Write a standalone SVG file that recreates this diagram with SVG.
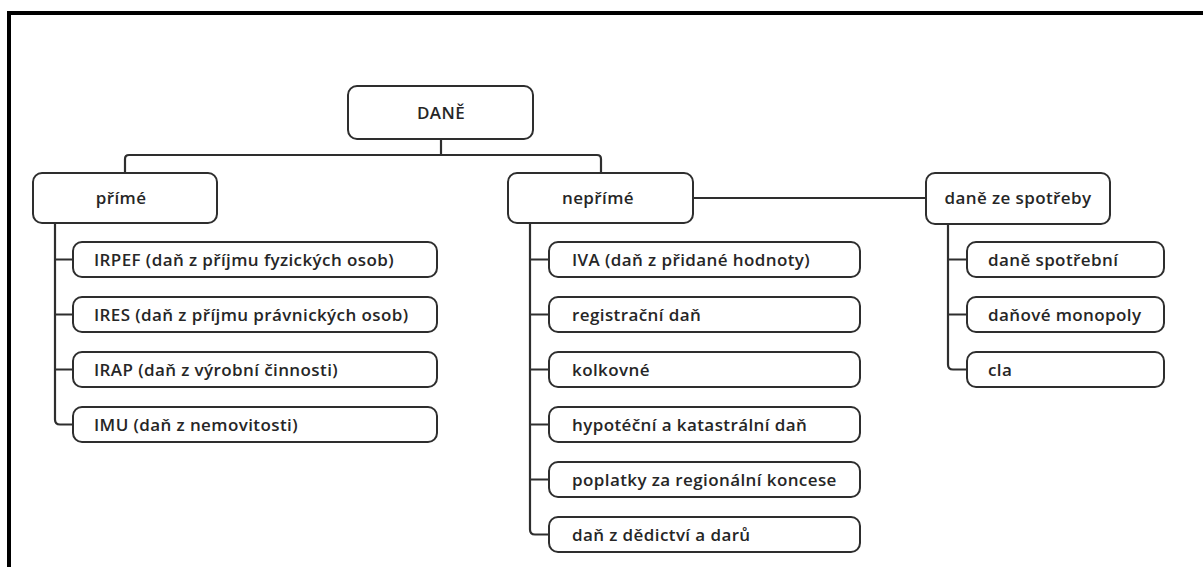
<svg xmlns="http://www.w3.org/2000/svg" width="1203" height="567" viewBox="0 0 1203 567">
  <style>
    .box { fill: #ffffff; stroke: #2e2e2e; stroke-width: 2; }
    .wire { fill: none; stroke: #2e2e2e; stroke-width: 2.2; }
    .lbl { font-family: "Open Sans", "Liberation Sans", sans-serif; font-weight: 600; font-size: 17px; letter-spacing: 0.4px; fill: #262626; }
    .mid { text-anchor: middle; }
  </style>
  <rect width="1203" height="567" fill="#ffffff"/>
  <!-- outer frame, running past the right and bottom edges -->
  <rect x="9" y="13" width="1300" height="700" fill="none" stroke="#000000" stroke-width="4"/>

  <g id="connectors">
    <!-- root to the two main branches -->
    <path class="wire" d="M441 139 V155"/>
    <path class="wire" d="M125 173 V159 Q125 155 129 155 H597 Q601 155 601 159 V173"/>
    <!-- nepřímé to daně ze spotřeby -->
    <path class="wire" d="M693 198 H926"/>
    <!-- přímé children -->
    <path class="wire" d="M55 223 V419.5 Q55 424.5 60 424.5 H73"/>
    <path class="wire" d="M55 259.5 H73 M55 314.5 H73 M55 369.5 H73"/>
    <!-- nepřímé children -->
    <path class="wire" d="M530 223 V529.5 Q530 534.5 535 534.5 H549"/>
    <path class="wire" d="M530 259.5 H549 M530 314.5 H549 M530 369.5 H549 M530 424.5 H549 M530 479.5 H549"/>
    <!-- daně ze spotřeby children -->
    <path class="wire" d="M948 224 V364.5 Q948 369.5 953 369.5 H967"/>
    <path class="wire" d="M948 259.5 H967 M948 314.5 H967"/>
  </g>

  <g id="dane">
    <rect class="box" x="348" y="86" width="185" height="53" rx="9"/>
    <text class="lbl mid" x="441" y="119">DANĚ</text>
  </g>

  <g id="prime">
    <rect class="box" x="33" y="173" width="184" height="50" rx="9"/>
    <text class="lbl mid" x="121" y="203.5">přímé</text>
  </g>
  <g id="neprime">
    <rect class="box" x="508" y="173" width="185" height="50" rx="9"/>
    <text class="lbl mid" x="598" y="203.5">nepřímé</text>
  </g>
  <g id="spotreba">
    <rect class="box" x="926" y="173" width="184" height="51" rx="9"/>
    <text class="lbl mid" x="1018" y="203.5">daně ze spotřeby</text>
  </g>

  <g id="irpef">
    <rect class="box" x="73" y="242" width="364" height="35" rx="9"/>
    <text class="lbl" x="94" y="265.5">IRPEF (daň z příjmu fyzických osob)</text>
  </g>
  <g id="ires">
    <rect class="box" x="73" y="297" width="364" height="35" rx="9"/>
    <text class="lbl" x="94" y="320.5">IRES (daň z příjmu právnických osob)</text>
  </g>
  <g id="irap">
    <rect class="box" x="73" y="352" width="364" height="35" rx="9"/>
    <text class="lbl" x="94" y="375.5">IRAP (daň z výrobní činnosti)</text>
  </g>
  <g id="imu">
    <rect class="box" x="73" y="407" width="364" height="35" rx="9"/>
    <text class="lbl" x="94" y="430.5">IMU (daň z nemovitosti)</text>
  </g>

  <g id="iva">
    <rect class="box" x="549" y="242" width="311" height="35" rx="9"/>
    <text class="lbl" x="572" y="265.5">IVA (daň z přidané hodnoty)</text>
  </g>
  <g id="registracni">
    <rect class="box" x="549" y="297" width="311" height="35" rx="9"/>
    <text class="lbl" x="572" y="320.5">registrační daň</text>
  </g>
  <g id="kolkovne">
    <rect class="box" x="549" y="352" width="311" height="35" rx="9"/>
    <text class="lbl" x="572" y="375.5">kolkovné</text>
  </g>
  <g id="hypotecni">
    <rect class="box" x="549" y="407" width="311" height="35" rx="9"/>
    <text class="lbl" x="572" y="430.5">hypotéční a katastrální daň</text>
  </g>
  <g id="poplatky">
    <rect class="box" x="549" y="462" width="311" height="35" rx="9"/>
    <text class="lbl" x="572" y="485.5">poplatky za regionální koncese</text>
  </g>
  <g id="dedictvi">
    <rect class="box" x="549" y="517" width="311" height="35" rx="9"/>
    <text class="lbl" x="572" y="540.5">daň z dědictví a darů</text>
  </g>

  <g id="spotrebni">
    <rect class="box" x="967" y="242" width="197" height="35" rx="9"/>
    <text class="lbl" x="988" y="265.5">daně spotřební</text>
  </g>
  <g id="monopoly">
    <rect class="box" x="967" y="297" width="197" height="35" rx="9"/>
    <text class="lbl" x="988" y="320.5">daňové monopoly</text>
  </g>
  <g id="cla">
    <rect class="box" x="967" y="352" width="197" height="35" rx="9"/>
    <text class="lbl" x="988" y="375.5">cla</text>
  </g>
</svg>
